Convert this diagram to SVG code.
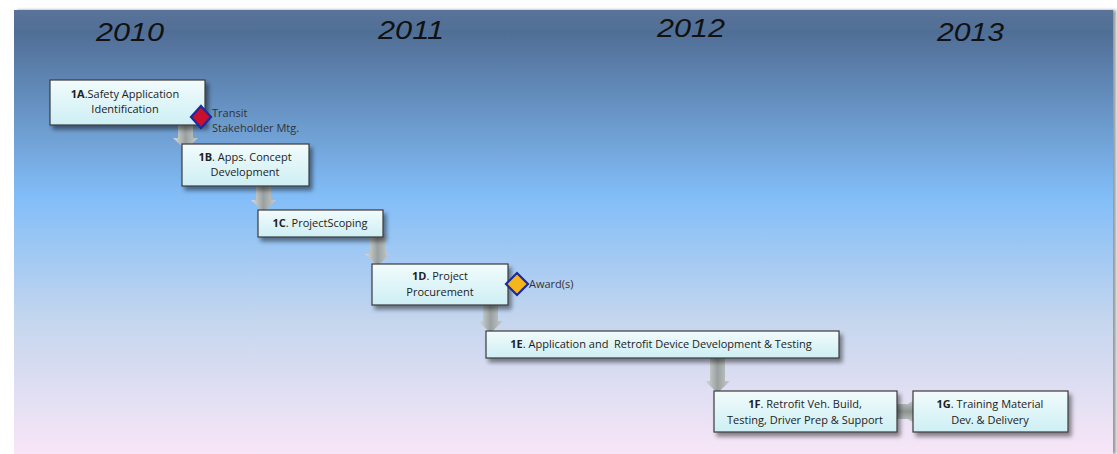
<svg xmlns="http://www.w3.org/2000/svg" width="1117" height="454" viewBox="0 0 1117 454">
<defs>
<linearGradient id="bg" x1="0" y1="0" x2="0" y2="1">
<stop offset="0" stop-color="#5a7399"/>
<stop offset="0.05" stop-color="#506e96"/>
<stop offset="0.42" stop-color="#82bdf8"/>
<stop offset="0.7" stop-color="#c5d6ee"/>
<stop offset="1" stop-color="#f8e6f7"/>
</linearGradient>
<linearGradient id="box" x1="0" y1="0" x2="0" y2="1">
<stop offset="0" stop-color="#f2fbfc"/>
<stop offset="1" stop-color="#cdeff4"/>
</linearGradient>
<linearGradient id="arrV" x1="0" y1="0" x2="1" y2="0">
<stop offset="0" stop-color="#d8dddd"/>
<stop offset="0.5" stop-color="#9aa0a0"/>
<stop offset="1" stop-color="#c8cccc"/>
</linearGradient>
<linearGradient id="arrH" x1="0" y1="0" x2="0" y2="1">
<stop offset="0" stop-color="#c8cccc"/>
<stop offset="0.5" stop-color="#8e9494"/>
<stop offset="1" stop-color="#c8cccc"/>
</linearGradient>
<filter id="sh" x="-10%" y="-20%" width="130%" height="160%">
<feDropShadow dx="3" dy="4" stdDeviation="2" flood-color="#000" flood-opacity="0.45"/>
</filter>
<filter id="psh" x="-2%" y="-2%" width="104%" height="104%">
<feDropShadow dx="3" dy="0" stdDeviation="1.5" flood-color="#000" flood-opacity="0.4"/>
</filter>
<style>
.yr{font-family:"Liberation Sans",Arial,sans-serif;font-style:italic;font-size:26px;fill:#111}
.bx{fill:url(#box);stroke:#3a3a3a;stroke-width:1.2;filter:url(#sh)}
.t{font-family:"Open Sans","Liberation Sans",sans-serif;font-size:11px;fill:#222;text-anchor:middle}
.b{font-weight:bold}
.ms{font-family:"Open Sans","Liberation Sans",sans-serif;font-size:11px;fill:#333}
.av{fill:url(#arrV)}
.ah{fill:url(#arrH)}
</style>
</defs>
<rect x="14" y="10" width="1099" height="444" fill="url(#bg)" filter="url(#psh)"/>
<g id="years">
<text class="yr" x="96" y="41" textLength="68" lengthAdjust="spacingAndGlyphs">2010</text>
<text class="yr" x="378" y="39" textLength="66" lengthAdjust="spacingAndGlyphs">2011</text>
<text class="yr" x="657" y="37" textLength="68" lengthAdjust="spacingAndGlyphs">2012</text>
<text class="yr" x="937" y="41" textLength="67" lengthAdjust="spacingAndGlyphs">2013</text>
</g>
<g id="connectors">
<path class="av" d="M178,122 H193 V138 H198 L185.5,150 L173,138 H178 Z"/>
<path class="av" d="M256,183 H271 V200 H276 L263.5,212 L251,200 H256 Z"/>
<path class="av" d="M370,234 H385 V254 H390 L377.5,266 L365,254 H370 Z"/>
<path class="av" d="M483,302 H498 V321 H503 L490.5,333 L478,321 H483 Z"/>
<path class="av" d="M710,355 H725 V381 H730 L717.5,393 L705,381 H710 Z"/>
<path class="ah" d="M895,404 H908 L915,399 V424 L908,419 H895 Z"/>
</g>
<g id="n1A">
<rect class="bx" x="50" y="80" width="155" height="45"/>
<text class="t" x="125" y="98"><tspan class="b">1A</tspan>.Safety Application</text>
<text class="t" x="125" y="113">Identification</text>
</g>
<g id="n1B">
<rect class="bx" x="182" y="144" width="127" height="42"/>
<text class="t" x="245" y="161"><tspan class="b">1B</tspan>. Apps. Concept</text>
<text class="t" x="245" y="176">Development</text>
</g>
<g id="n1C">
<rect class="bx" x="258" y="210" width="125" height="27"/>
<text class="t" x="320" y="227"><tspan class="b">1C</tspan>. ProjectScoping</text>
</g>
<g id="n1D">
<rect class="bx" x="372" y="264" width="136" height="41"/>
<text class="t" x="440" y="280"><tspan class="b">1D</tspan>. Project</text>
<text class="t" x="440" y="296">Procurement</text>
</g>
<g id="n1E">
<rect class="bx" x="486" y="331" width="353" height="27"/>
<text class="t" x="661" y="348" xml:space="preserve"><tspan class="b">1E</tspan>. Application and  Retrofit Device Development &amp; Testing</text>
</g>
<g id="n1F">
<rect class="bx" x="714" y="391" width="183" height="41"/>
<text class="t" x="805" y="408"><tspan class="b">1F</tspan>. Retrofit Veh. Build,</text>
<text class="t" x="805" y="424">Testing, Driver Prep &amp; Support</text>
</g>
<g id="n1G">
<rect class="bx" x="913" y="391" width="155" height="41"/>
<text class="t" x="990" y="408"><tspan class="b">1G</tspan>. Training Material</text>
<text class="t" x="990" y="424">Dev. &amp; Delivery</text>
</g>
<g id="m1">
<path d="M201,106 L211,117 L201,128 L191,117 Z" fill="#c8102e" stroke="#1a2aa0" stroke-width="2.2"/>
<text class="ms" x="212" y="117" fill="#555">Transit</text>
<text class="ms" x="212" y="132" fill="#555">Stakeholder Mtg.</text>
</g>
<g id="m2">
<path d="M517,273 L528,284 L517,295 L506,284 Z" fill="#f5b51b" stroke="#1a2aa0" stroke-width="2.2"/>
<text class="ms" x="529" y="288">Award(s)</text>
</g>
</svg>
